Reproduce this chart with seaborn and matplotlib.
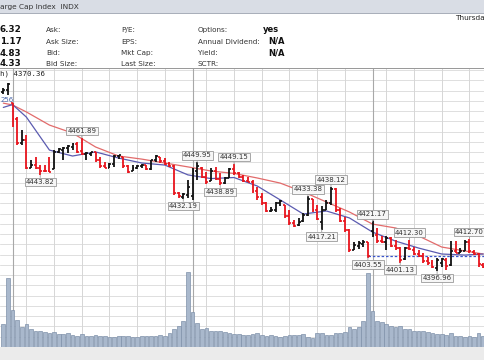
import numpy as np
import pandas as pd
import matplotlib
matplotlib.use("Agg")
import matplotlib.pyplot as plt
from matplotlib.patches import Rectangle
import seaborn as sns

# 10-minute bars, 14Aug 3:40pm -> 17Aug ~1:30pm
opens = [4484.5, 4485.5, 4478.87, 4471.0, 4459.5, 4461.0, 4447.5, 4448.5, 4447.5, 4446.0,
         4446.0, 4447.0, 4455.0, 4456.0, 4457.0, 4457.5, 4459.0, 4455.5, 4454.0, 4454.0,
         4455.0, 4451.0, 4448.0, 4447.5, 4449.0, 4453.0, 4452.5, 4448.0, 4446.0, 4447.5,
         4448.0, 4448.5, 4447.0, 4451.0, 4452.5, 4450.5, 4449.0, 4448.0, 4435.0, 4433.0,
         4434.0, 4433.79, 4446.0, 4447.5, 4443.0, 4441.0, 4446.0, 4442.0, 4440.0, 4442.5,
         4447.0, 4445.0, 4443.0, 4441.0, 4440.6, 4436.0, 4433.0, 4430.0, 4426.5, 4427.0,
         4430.0, 4429.0, 4424.0, 4420.5, 4419.5, 4421.5, 4424.5, 4432.0, 4427.0, 4421.0,
         4427.0, 4430.0, 4437.0, 4427.0, 4421.5, 4417.0, 4407.5, 4409.0, 4410.0, 4411.0,
         4416.32, 4414.5, 4411.5, 4411.0, 4413.0, 4409.0, 4408.0, 4403.0, 4408.0, 4407.5,
         4405.5, 4404.5, 4402.0, 4401.0, 4398.5, 4401.0, 4402.5, 4400.0, 4407.0, 4406.0,
         4407.0, 4411.0, 4406.5, 4405.5, 4400.0]
highs = [4486.5, 4488.5, 4478.87, 4472.1, 4465.8, 4463.4, 4451.2, 4452.6, 4448.7, 4448.7,
         4452.6, 4456.0, 4457.0, 4457.5, 4458.5, 4459.4, 4460.0, 4461.89, 4455.1, 4455.1,
         4455.1, 4452.6, 4450.2, 4449.7, 4453.6, 4453.6, 4452.6, 4448.7, 4448.7, 4448.7,
         4449.2, 4448.7, 4451.2, 4453.6, 4452.6, 4452.1, 4450.2, 4448.7, 4435.6, 4435.1,
         4441.4, 4447.5, 4449.95, 4447.8, 4445.3, 4447.3, 4447.8, 4444.8, 4442.9, 4447.3,
         4449.15, 4445.3, 4443.9, 4442.9, 4441.4, 4438.0, 4435.1, 4430.7, 4428.2, 4430.7,
         4431.7, 4429.2, 4426.8, 4421.9, 4422.9, 4425.3, 4433.38, 4432.3, 4429.0, 4428.5,
         4431.7, 4438.12, 4437.5, 4427.8, 4423.4, 4417.5, 4411.2, 4411.6, 4412.1, 4411.2,
         4421.17, 4418.0, 4414.0, 4414.0, 4413.4, 4412.1, 4408.7, 4408.7, 4412.30, 4408.7,
         4407.3, 4405.8, 4403.8, 4402.4, 4403.4, 4403.4, 4403.4, 4411.5, 4411.6, 4408.3,
         4412.1, 4412.70, 4407.3, 4405.8, 4400.9]
lows = [4483.5, 4482.9, 4467.3, 4458.5, 4458.5, 4446.8, 4447.5, 4446.8, 4443.82, 4445.5,
        4445.2, 4446.8, 4454.6, 4451.2, 4454.6, 4456.0, 4454.6, 4453.6, 4451.2, 4453.1,
        4450.2, 4447.3, 4447.3, 4447.3, 4447.8, 4451.6, 4447.3, 4444.8, 4445.8, 4446.8,
        4447.3, 4446.3, 4446.3, 4450.2, 4449.7, 4448.7, 4447.8, 4434.1, 4432.6, 4432.19,
        4432.6, 4431.5, 4441.4, 4442.4, 4439.5, 4440.8, 4441.4, 4438.89, 4439.5, 4442.4,
        4443.9, 4442.4, 4440.4, 4440.4, 4435.1, 4431.7, 4429.2, 4425.8, 4425.8, 4425.8,
        4428.5, 4422.9, 4419.5, 4418.5, 4419.0, 4421.0, 4424.0, 4425.8, 4421.9, 4417.21,
        4426.8, 4429.2, 4425.8, 4420.9, 4416.0, 4406.3, 4407.3, 4407.8, 4408.7, 4403.55,
        4413.6, 4410.7, 4410.5, 4407.3, 4408.7, 4407.3, 4401.13, 4402.5, 4407.3, 4404.8,
        4403.8, 4400.9, 4399.9, 4398.5, 4396.96, 4399.0, 4397.5, 4399.5, 4405.8, 4405.8,
        4407.0, 4405.8, 4404.8, 4399.0, 4398.5]
closes = [4485.5, 4488.3, 4471.0, 4459.5, 4461.0, 4447.5, 4448.5, 4447.5, 4446.0, 4445.8,
          4445.5, 4455.0, 4456.5, 4457.2, 4458.0, 4459.0, 4455.0, 4454.0, 4454.5, 4455.0,
          4451.0, 4448.0, 4447.5, 4449.0, 4453.0, 4453.4, 4448.0, 4445.5, 4447.5, 4448.0,
          4448.5, 4447.0, 4451.0, 4453.0, 4450.5, 4449.0, 4448.0, 4435.0, 4433.5, 4434.5,
          4437.86, 4446.0, 4448.0, 4443.0, 4440.5, 4446.0, 4442.0, 4440.0, 4442.5, 4447.0,
          4445.0, 4443.0, 4441.0, 4440.6, 4436.0, 4433.0, 4430.0, 4426.5, 4427.0, 4430.0,
          4431.0, 4424.0, 4420.5, 4419.0, 4421.0, 4424.5, 4432.0, 4427.0, 4422.5, 4427.0,
          4430.0, 4437.0, 4427.0, 4421.5, 4417.0, 4407.5, 4409.5, 4410.5, 4411.0, 4404.33,
          4414.5, 4411.5, 4411.0, 4413.0, 4409.0, 4408.0, 4402.5, 4408.0, 4407.6, 4405.5,
          4404.5, 4402.0, 4401.0, 4399.0, 4402.5, 4402.8, 4399.5, 4407.0, 4406.0, 4407.0,
          4411.0, 4407.0, 4405.5, 4400.5, 4399.0]
volume = [23, 69, 37, 27, 20, 23, 18, 16, 16, 15,
          14, 15, 13, 13, 14, 12, 11, 13, 11, 11,
          12, 11, 11, 10, 10, 11, 11, 11, 10, 10,
          11, 11, 11, 11, 12, 11, 14, 18, 21, 26,
          75, 35, 24, 18, 19, 16, 16, 16, 15, 14,
          13, 13, 12, 12, 13, 14, 12, 11, 12, 11,
          10, 11, 12, 12, 12, 13, 10, 9, 14, 14,
          12, 12, 14, 14, 15, 20, 18, 20, 26, 74,
          36, 26, 25, 23, 21, 20, 21, 18, 18, 16,
          16, 16, 15, 14, 13, 13, 12, 14, 11, 11,
          10, 11, 10, 14, 11]

ma_idx = [0, 2, 5, 10, 15, 20, 25, 30, 35, 40, 45, 50, 55, 60, 65, 70, 75, 80, 85, 90, 95, 100, 104]
ma_slow = [4478.9, 4478.0, 4474.6, 4468.2, 4464.3, 4457.5, 4453.1, 4451.6, 4449.7, 4447.8, 4445.8, 4444.6,
           4442.4, 4439.9, 4435.6, 4430.7, 4425.8, 4419.9, 4418.0, 4414.1, 4408.7, 4406.8, 4405.3]
ma_fast = [4476.8, 4478.2, 4472.1, 4456.0, 4453.1, 4455.1, 4452.1, 4449.7, 4448.7, 4443.9, 4442.1, 4442.6,
           4438.5, 4431.7, 4424.8, 4426.3, 4422.9, 4416.0, 4411.6, 4408.2, 4405.3, 4404.8, 4405.3]

hi_marks = [(17, 4461.89), (42, 4449.95), (50, 4449.15), (66, 4433.38), (71, 4438.12),
            (80, 4421.17), (88, 4412.30), (101, 4412.70)]
lo_marks = [(8, 4443.82), (39, 4432.19), (47, 4438.89), (69, 4417.21), (79, 4403.55),
            (86, 4401.13), (94, 4396.96)]

day_starts = [2, 41, 80]
day_names = ["15Aug", "16Aug", "17Aug"]
hour_offsets = [3, 9, 15, 21, 27, 33]
hour_names = ["", "11:00", "12:00", "1:00", "2:00", "3:00"]

df = pd.DataFrame({"bar": np.arange(len(closes)), "open": opens, "high": highs,
                   "low": lows, "close": closes, "volume": volume})
prev = df["close"].shift(1).fillna(df["open"])
df["color"] = np.where(df["close"] < prev, "#e8141c", "#111111")

sns.set_theme(style="white")
plt.rcParams["font.family"] = ["DejaVu Sans"]

W, H = 485, 360
fig = plt.figure(figsize=(W / 100, H / 100), dpi=100)
fig.patch.set_facecolor("white")


def fx(px):
    return px / W


def fy(py):
    return 1 - py / H


# header band
fig.patches.append(Rectangle((0, fy(13)), 1, 13 / H, transform=fig.transFigure,
                             facecolor="#d9dde5", edgecolor="none"))
fig.patches.append(Rectangle((0, fy(13.5)), 1, 1 / H, transform=fig.transFigure,
                             facecolor="#a9afba", edgecolor="none"))
fig.text(fx(0), fy(7), "arge Cap Index  INDX", fontsize=5.3, va="center", color="#333333")
fig.text(fx(485), fy(18), "Thursda", fontsize=5.3, va="center", ha="right", color="#222222")

rows_y = [30, 41.5, 53, 64]
vals = ["6.32", "1.17", "4.83", "4.33"]
col1 = ["Ask:", "Ask Size:", "Bid:", "Bid Size:"]
col2 = ["P/E:", "EPS:", "Mkt Cap:", "Last Size:"]
col3 = ["Options:", "Annual Dividend:", "Yield:", "SCTR:"]
col3v = ["yes", "N/A", "N/A", ""]
for k, y in enumerate(rows_y):
    fig.text(fx(0), fy(y), vals[k], fontsize=6.3, fontweight="bold", va="center", color="#111111")
    fig.text(fx(46), fy(y), col1[k], fontsize=5.2, va="center", color="#333333")
    fig.text(fx(121), fy(y), col2[k], fontsize=5.2, va="center", color="#333333")
    fig.text(fx(198), fy(y), col3[k], fontsize=5.2, va="center", color="#333333")
    fig.text(fx(263 if k == 0 else 268), fy(y), col3v[k], fontsize=6.0, fontweight="bold",
             va="center", color="#111111")
fig.patches.append(Rectangle((0, fy(69)), 1, 1 / H, transform=fig.transFigure,
                             facecolor="#9a9a9a", edgecolor="none"))

# x label band
fig.patches.append(Rectangle((0, 0), 1, 13 / H, transform=fig.transFigure,
                             facecolor="#ebebeb", edgecolor="none"))

x0 = -3.3 / 4.615
x1 = x0 + W / 4.615
ax = fig.add_axes([0, 13 / H, 1, 279 / H])
ax.set_xlim(x0, x1)
ax.set_ylim(4359.94, 4496.04)
ax.set_facecolor("white")
for s in ax.spines.values():
    s.set_visible(False)

for lvl in np.arange(4360, 4500, 5):
    ax.axhline(lvl, color="#dedede", lw=0.7, zorder=0)
for d in day_starts:
    for off in hour_offsets:
        ax.axvline(d + off, color="#d6d6d6", lw=0.7, zorder=0)
    ax.axvline(d, color="#a8a8a8", lw=0.8, zorder=0)
ax.axvline(day_starts[0] - 6, color="#d6d6d6", lw=0.7, zorder=0)

# volume bars on a twin axis
vax = ax.twinx()
sns.barplot(data=df, x="bar", y="volume", ax=vax, native_scale=True, width=0.8,
            color="#a9b8cc", edgecolor="#7f91aa", linewidth=0.5, saturation=1)
vax.set_ylim(0, 279)
vax.set_xlim(x0, x1)
vax.axis("off")

# moving averages
sns.lineplot(x=ma_idx, y=ma_slow, ax=ax, color="#e26b6b", lw=0.9, zorder=2)
sns.lineplot(x=ma_idx, y=ma_fast, ax=ax, color="#5b5bb0", lw=0.9, zorder=2)

# previous close dashed line
ax.hlines(df["close"].iloc[79], 79, x1, colors="#3a55cc", linestyles=(0, (2, 1.5)), lw=0.9, zorder=2)

# OHLC bars
ax.vlines(df["bar"], df["low"], df["high"], colors=df["color"], lw=1.3, zorder=3)
ax.hlines(df["open"], df["bar"] - 0.42, df["bar"], colors=df["color"], lw=1.2, zorder=3)
ax.hlines(df["close"], df["bar"], df["bar"] + 0.42, colors=df["color"], lw=1.2, zorder=3)

box = dict(boxstyle="square,pad=0.18", fc="#f6f6f6", ec="#9a9a9a", lw=0.6)
arrow = dict(arrowstyle="-", color="#9a9a9a", lw=0.6, shrinkA=0, shrinkB=0)
for i, v in hi_marks:
    ax.annotate(f"{v:.2f}", xy=(i, v), xytext=(0, 7), textcoords="offset pixels",
                ha="center", va="center", fontsize=5.0, color="#333333", bbox=box,
                arrowprops=arrow, zorder=5)
for i, v in lo_marks:
    ax.annotate(f"{v:.2f}", xy=(i, v), xytext=(0, -7), textcoords="offset pixels",
                ha="center", va="center", fontsize=5.0, color="#333333", bbox=box,
                arrowprops=arrow, zorder=5)

fig.text(fx(0.5), fy(100), "256", fontsize=5.0, color="#4a66aa", va="center", zorder=5)
fig.text(fx(0), fy(73.5), "h) 4370.36", fontsize=5.3, family="DejaVu Sans Mono",
         va="center", color="#222222")

# time axis labels: hours as ticks, days as bold text
ticks, labels = [], []
for d in day_starts:
    for off, hn in zip(hour_offsets, hour_names):
        if hn and d + off < x1:
            ticks.append(d + off)
            labels.append(hn)
ax.set_xticks(ticks, labels)
ax.set_yticks([])
ax.tick_params(axis="x", length=0, pad=2.5, labelsize=5.3, colors="#222222")
for d, name in zip(day_starts, day_names):
    xpos, ha = (x0 + 0.1, "left") if d - 3 < x0 else (d, "center")
    ax.text(xpos, -6.5 / 279, name, transform=ax.get_xaxis_transform(), ha=ha, va="center",
            fontsize=6.0, fontweight="bold", color="#222222")

fig.savefig("out.png", dpi=100)
